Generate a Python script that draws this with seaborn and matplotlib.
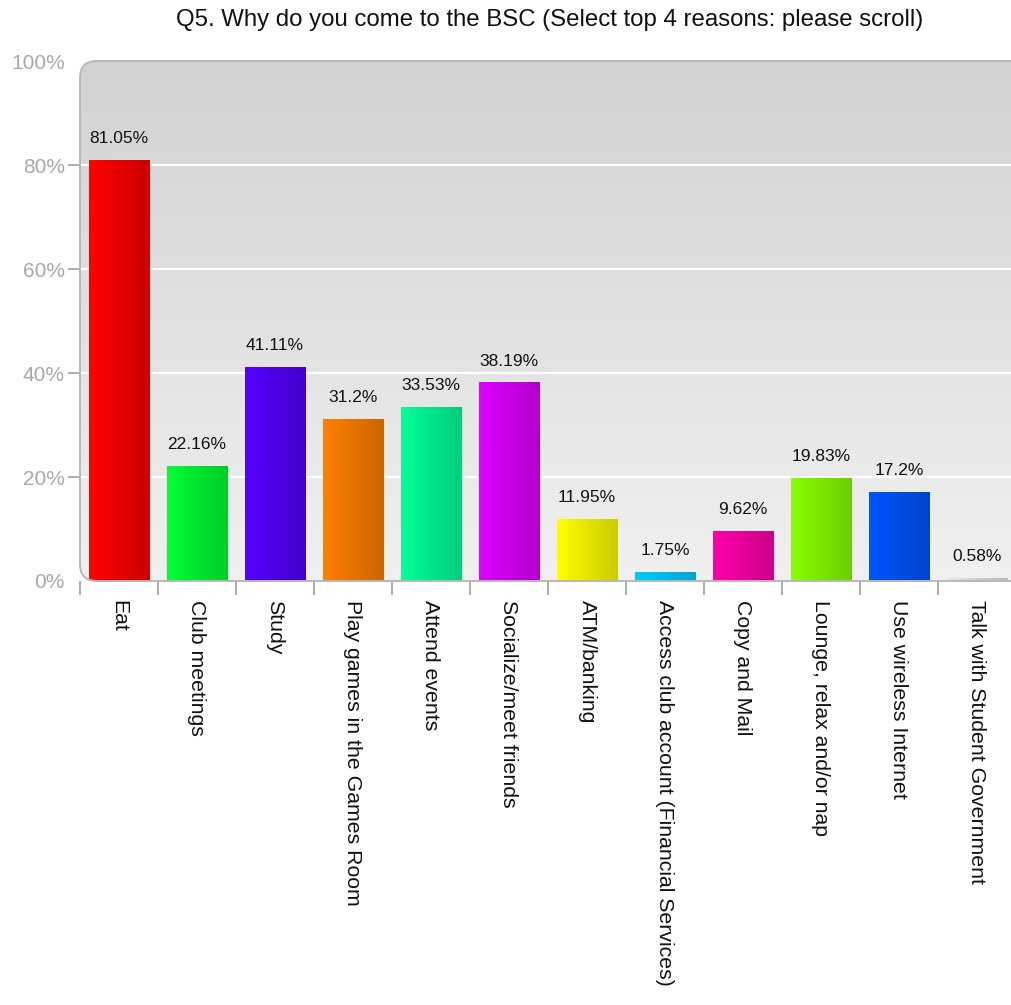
import matplotlib as mpl
mpl.use('Agg')
import matplotlib.pyplot as plt
import matplotlib.patches as patches
import matplotlib.colors as mcolors
import numpy as np
import pandas as pd
import seaborn as sns

categories = ["Eat", "Club meetings", "Study", "Play games in the Games Room",
              "Attend events", "Socialize/meet friends", "ATM/banking",
              "Access club account (Financial Services)", "Copy and Mail",
              "Lounge, relax and/or nap", "Use wireless Internet",
              "Talk with Student Government"]
values = [81.05, 22.16, 41.11, 31.2, 33.53, 38.19, 11.95, 1.75, 9.62, 19.83, 17.2, 0.58]
value_labels = ["81.05%", "22.16%", "41.11%", "31.2%", "33.53%", "38.19%",
                "11.95%", "1.75%", "9.62%", "19.83%", "17.2%", "0.58%"]
bar_colors = ["#ff0000", "#00ff33", "#5500ff", "#ff8000", "#00ff99", "#dd00ff",
              "#ffff00", "#00ccff", "#ff00aa", "#88ff00", "#0055ff", "#e6e6e6"]
y_ticks = [0, 20, 40, 60, 80, 100]
y_ticklabels = ["0%", "20%", "40%", "60%", "80%", "100%"]
title = "Q5. Why do you come to the BSC (Select top 4 reasons: please scroll)"

sns.set_style("white")
plt.rcParams['font.family'] = ['Liberation Sans', 'DejaVu Sans']

df = pd.DataFrame({"reason": categories, "pct": values})

fig = plt.figure(figsize=(10.12, 10.05), dpi=100)
ax = fig.add_axes([80 / 1012, 424 / 1005, 936 / 1012, 520 / 1005])

sns.barplot(data=df, x="reason", y="pct", hue="reason", palette=bar_colors,
            order=categories, legend=False, width=0.77, ax=ax, zorder=3)

n = len(categories)

# rounded plot-area frame (right side runs past the figure edge)
asp = (936 / 1012 * 10.12) / (520 / 1005 * 10.05)
frame = patches.FancyBboxPatch((0, 0), 1.04, 1, boxstyle="round,pad=0,rounding_size=0.018",
                               mutation_aspect=asp, transform=ax.transAxes,
                               facecolor="none", edgecolor="#b8b8b8", linewidth=1.4,
                               zorder=5, clip_on=False)
ax.add_patch(frame)
clip_frame = patches.FancyBboxPatch((0, 0), 1.04, 1, boxstyle="round,pad=0,rounding_size=0.018",
                                    mutation_aspect=asp, transform=ax.transAxes,
                                    facecolor="none", edgecolor="none")
ax.add_patch(clip_frame)

# vertical gray gradient, darker at top
bg = np.linspace(0, 1, 256).reshape(-1, 1)
bg_cmap = mcolors.LinearSegmentedColormap.from_list("bg", ["#d2d2d2", "#f0f0f0"])
im = ax.imshow(bg, cmap=bg_cmap, extent=[-0.5, n - 0.5, 0, 100],
               aspect="auto", zorder=0, origin="upper")
im.set_clip_path(clip_frame)
ax.set_facecolor("none")

for y in y_ticks[1:-1]:
    ax.axhline(y, color="white", linewidth=1.6, zorder=1)

# gradient fill for each bar (bright left, darker right)
for bar, col in zip(ax.patches[:n], bar_colors):
    x0, w, h = bar.get_x(), bar.get_width(), bar.get_height()
    c = np.array(mcolors.to_rgb(col))
    grad = np.linspace(0, 1, 64)[:, None]
    rgb = c * (1 - grad) + c * 0.8 * grad
    img = ax.imshow(rgb[None, :, :], extent=[x0, x0 + w, 0, h], aspect="auto",
                    zorder=3, origin="lower")
    img.set_clip_path(bar)
    bar.set_facecolor("none")
    bar.set_edgecolor(mcolors.to_rgb(col) if col != "#e6e6e6" else "#d0d0d0")
    bar.set_linewidth(0.6)

ax.set_xlim(-0.5, n - 0.5)
ax.set_ylim(0, 100)

for i, (v, lab) in enumerate(zip(values, value_labels)):
    ax.annotate(lab, (i, v), xytext=(0, 10), textcoords="offset points",
                ha="center", va="bottom", fontsize=12.5, color="#111111", zorder=6)

sns.despine(ax=ax, left=True, bottom=True, top=True, right=True)

ax.set_yticks(y_ticks)
ax.set_yticklabels(y_ticklabels)
ax.tick_params(axis="y", left=True, length=9, width=1.2, color="#a0a0a0",
               labelcolor="#a8a8a8", labelsize=15, pad=2)
# no tick marks at the rounded corners
yt = ax.yaxis.get_major_ticks()
yt[0].tick1line.set_visible(False)
yt[-1].tick1line.set_visible(False)

ax.set_xticks(range(n))
ax.set_xticklabels(categories, rotation=270, ha="center", va="top")
ax.set_xticks(np.arange(-0.5, n, 1), minor=True)
ax.tick_params(axis="x", which="major", bottom=False, length=0, labelsize=15.3,
               labelcolor="#111111", pad=14)
ax.tick_params(axis="x", which="minor", bottom=True, length=10, width=1.2,
               color="#a0a0a0")
ax.set_xlabel("")
ax.set_ylabel("")

fig.text(550 / 1012, 1 - 20 / 1005, title, ha="center", va="center",
         fontsize=17.3, color="#111111")

fig.savefig("out.png", dpi=100)
